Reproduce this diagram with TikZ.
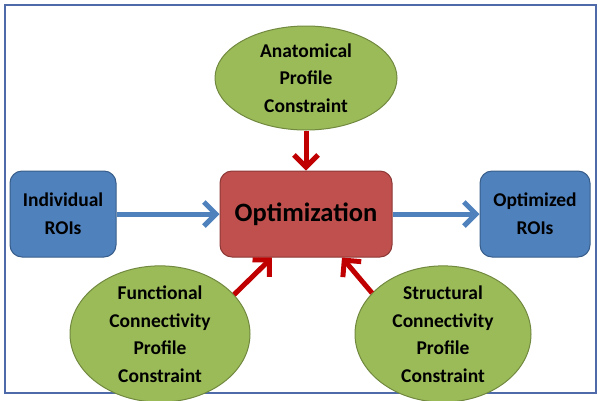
\documentclass[tikz,border=0pt]{standalone}
\usepackage{fontspec}
\setmainfont{Carlito}
\usetikzlibrary{shapes.geometric,arrows.meta,calc}
\definecolor{gfill}{HTML}{9BBB59}
\definecolor{gdraw}{HTML}{71893F}
\definecolor{bfill}{HTML}{4F81BD}
\definecolor{bdraw}{HTML}{385D8A}
\definecolor{rfill}{HTML}{C0504D}
\definecolor{rdraw}{HTML}{8C3836}
\definecolor{rarrow}{HTML}{C00000}
\definecolor{frame}{HTML}{4F6AA8}
\tikzset{
  oval/.style={ellipse, fill=gfill, draw=gdraw, line width=1pt, inner sep=0pt,
    align=center, font=\fontsize{19.5}{27.5}\selectfont\bfseries},
  roibox/.style={rectangle, rounded corners=12pt, fill=bfill, draw=bdraw, line width=1pt,
    inner sep=0pt, align=center, minimum width=106pt, minimum height=86pt,
    font=\fontsize{19.5}{28}\selectfont\bfseries},
  optbox/.style={rectangle, rounded corners=12pt, fill=rfill, draw=rdraw, line width=1pt,
    inner sep=0pt, minimum width=172pt, minimum height=86pt,
    font=\fontsize{26.5}{30}\selectfont\bfseries},
  bluearrow/.style={draw=bfill, line width=5pt, -{Straight Barb[length=12pt,width=24pt]}},
  redarrow/.style={draw=rarrow, line width=5pt, -{Straight Barb[length=12pt,width=24pt]}},
}
\begin{document}
\begin{tikzpicture}[x=1pt,y=-1pt]
\useasboundingbox (0,0) rectangle (602,400);
\draw[frame, line width=2pt] (5,5) rectangle (596,393);
\node[oval, minimum width=182pt, minimum height=104pt] (ana) at (306,78) {Anatomical\\Profile\\Constraint};
\node[optbox] (opt) at (306,214) {Optimization};
\node[roibox] (ind) at (63,214) {Individual\\ROIs};
\node[roibox, minimum width=110pt] (out) at (535,214) {Optimized\\ROIs};
\node[oval, minimum width=180pt, minimum height=112pt] (fun) at (160,334) {Functional\\Connectivity\\Profile\\Constraint};
\node[oval, minimum width=176pt, minimum height=112pt] (str) at (443,334) {Structural\\Connectivity\\Profile\\Constraint};
\draw[bluearrow] (ind.east) -- (opt.west);
\draw[bluearrow] (opt.east) -- (out.west);
\draw[redarrow] (ana.south) -- (opt.north);
\draw[redarrow] (fun.28) -- ($(opt.south)+(-34,0)$);
\draw[redarrow] (str.150) -- ($(opt.south)+(36,0)$);
\end{tikzpicture}
\end{document}
